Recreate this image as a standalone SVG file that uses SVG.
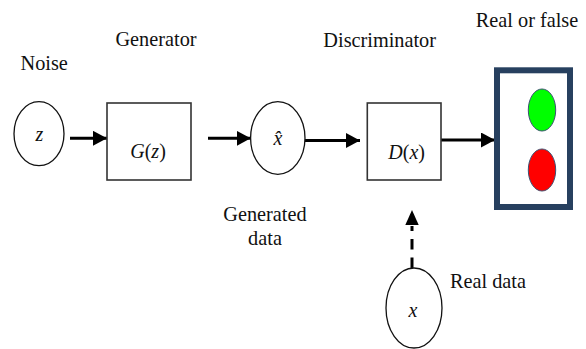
<svg xmlns="http://www.w3.org/2000/svg" width="586" height="349" viewBox="0 0 586 349">
<defs>
<style>
.lbl{font-family:"Liberation Serif","Times New Roman",serif;font-size:20.3px;fill:#111;text-anchor:middle}
.math{font-family:"Liberation Serif","Times New Roman",serif;font-size:20px;fill:#111;text-anchor:middle}
.it{font-style:italic}
.node{fill:#fff;stroke:#111;stroke-width:1.3}
.box{fill:#fff;stroke:#333;stroke-width:1.6}
.conn{stroke:#000;stroke-width:3;fill:none}
</style>
<marker id="ah" viewBox="0 0 14 15" refX="14" refY="7.5" markerWidth="14" markerHeight="15" markerUnits="userSpaceOnUse" orient="auto">
<path d="M0,0 L14,7.5 L0,15 Z" fill="#000"/>
</marker>
</defs>
<rect width="586" height="349" fill="#fff"/>

<text class="lbl" x="44.2" y="70">Noise</text>
<text class="lbl" x="156" y="45.7">Generator</text>
<text class="lbl" x="379.7" y="46.7">Discriminator</text>
<text class="lbl" x="527" y="26.5">Real or false</text>
<text class="lbl" x="265" y="221">Generated</text>
<text class="lbl" x="265" y="245">data</text>
<text class="lbl" x="488" y="288">Real data</text>

<g id="connectors">
<line class="conn" x1="70" y1="138.3" x2="107" y2="138.3" marker-end="url(#ah)"/>
<line class="conn" x1="208" y1="138.3" x2="250.7" y2="138.3" marker-end="url(#ah)"/>
<line class="conn" x1="305" y1="140.5" x2="360" y2="140.5" marker-end="url(#ah)"/>
<line class="conn" x1="441" y1="140" x2="495" y2="140" marker-end="url(#ah)"/>
<line class="conn" x1="412" y1="268" x2="412" y2="226" stroke-dasharray="10.5 8"/>
<path d="M412,210 L418.7,225 L405.3,225 Z" fill="#000"/>
</g>

<g id="noise">
<ellipse class="node" cx="39" cy="133.7" rx="25" ry="32"/>
<text class="math it" x="39.3" y="141">z</text>
</g>

<g id="generator">
<rect class="box" x="107" y="103" width="84" height="77"/>
<text class="math" x="148" y="158.3"><tspan class="it">G</tspan>(<tspan class="it">z</tspan>)</text>
</g>

<g id="generated">
<ellipse class="node" cx="277.8" cy="138" rx="27.2" ry="36.3"/>
<text class="math it" x="278" y="145">x̂</text>
</g>

<g id="discriminator">
<rect class="box" x="367.3" y="103" width="73.7" height="77"/>
<text class="math" x="406.7" y="159"><tspan class="it">D</tspan>(<tspan class="it">x</tspan>)</text>
</g>

<g id="output">
<rect x="497" y="70.3" width="73" height="136.7" fill="#fff" stroke="#27405f" stroke-width="6"/>
<ellipse cx="542" cy="110" rx="13.7" ry="21" fill="#00ff00" stroke="#3e5273" stroke-width="1"/>
<ellipse cx="542" cy="170" rx="13.7" ry="21" fill="#ff0000" stroke="#3e5273" stroke-width="1"/>
</g>

<g id="real">
<ellipse class="node" cx="414" cy="308" rx="28" ry="40"/>
<text class="math it" x="413" y="316.7">x</text>
</g>
</svg>
